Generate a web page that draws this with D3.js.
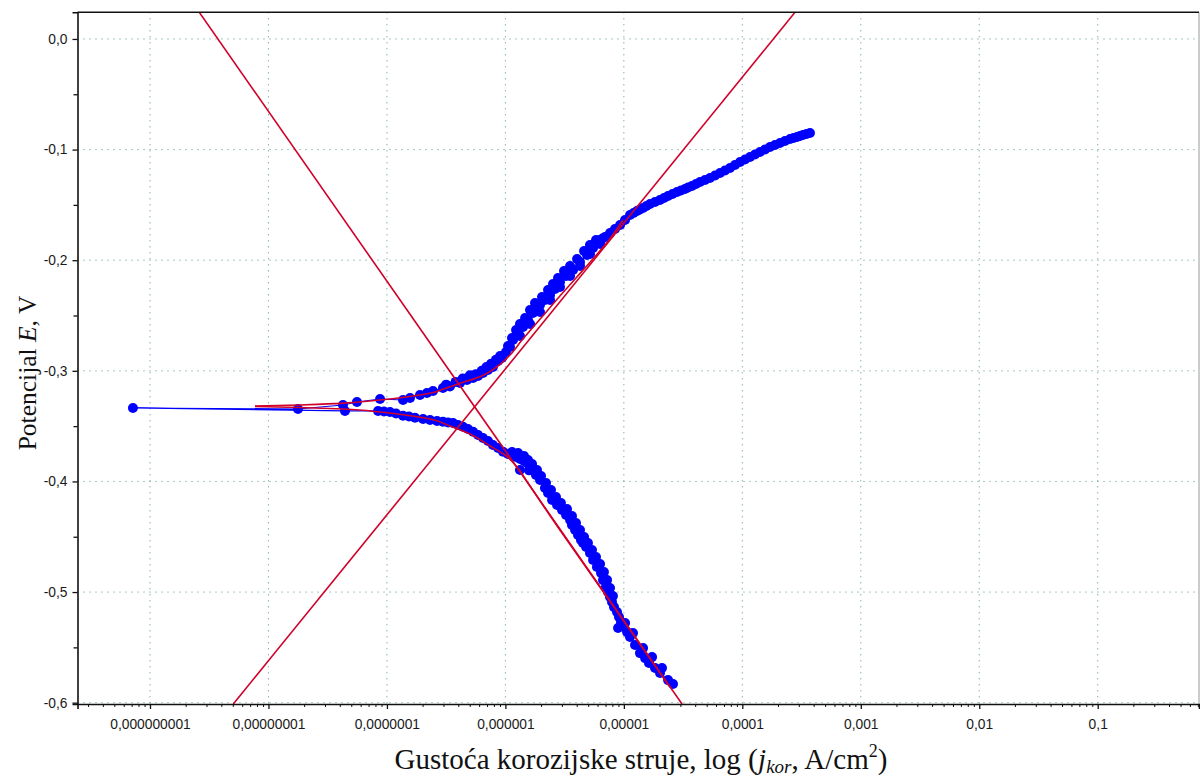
<!DOCTYPE html>
<html><head><meta charset="utf-8">
<script src="https://cdn.jsdelivr.net/npm/d3@7"></script>
<style>body{margin:0;background:#fff}svg{display:block}</style>
</head><body>
<svg id="chart" width="1200" height="779"></svg>
<script>
// ---- axis ticks ----
const xDecades = [1e-9, 1e-8, 1e-7, 1e-6, 1e-5, 1e-4, 1e-3, 1e-2, 1e-1];
const xDecadeLabels = ["0,000000001","0,00000001","0,0000001","0,000001","0,00001","0,0001","0,001","0,01","0,1"];
const yTicks = [0, -0.1, -0.2, -0.3, -0.4, -0.5, -0.6];
const yTickLabels = ["0,0","-0,1","-0,2","-0,3","-0,4","-0,5","-0,6"];
const yMinorTicks = [-0.05, -0.15, -0.25, -0.35, -0.45, -0.55];
const xDomainLog = [-9.612, -0.145];
const yDomain = [-0.6012, 0.0241];

// ---- measured polarization curve: [log10 j (A/cm2), E (V)], scan order ----
const measured = [
[-4.585,-0.5832],[-4.627,-0.5796],[-4.695,-0.5732],[-4.737,-0.5687],[-4.788,-0.5642],[-4.821,-0.5597],
[-4.864,-0.5552],[-4.906,-0.5479],[-4.948,-0.5407],[-4.973,-0.5362],[-4.999,-0.5316],[-5.049,-0.5325],
[-5.024,-0.5271],[-5.041,-0.5226],[-5.058,-0.5181],[-5.083,-0.5136],[-5.100,-0.5090],[-5.117,-0.5045],
[-5.134,-0.5000],[-5.151,-0.4955],[-5.176,-0.4892],[-5.193,-0.4828],[-5.227,-0.4774],[-5.260,-0.4711],
[-5.286,-0.4647],[-5.319,-0.4593],[-5.345,-0.4557],[-5.362,-0.4530],[-5.387,-0.4485],[-5.412,-0.4439],
[-5.438,-0.4394],[-5.454,-0.4349],[-5.488,-0.4304],[-5.522,-0.4259],[-5.564,-0.4213],[-5.606,-0.4168],
[-5.640,-0.4105],[-5.666,-0.4060],[-5.708,-0.3987],[-5.742,-0.3942],[-5.767,-0.3897],[-5.800,-0.3900],
[-5.792,-0.3861],[-5.818,-0.3834],[-5.843,-0.3816],[-5.877,-0.3797],[-5.910,-0.3779],[-5.936,-0.3770],
[-5.978,-0.3752],[-6.020,-0.3731],[-6.062,-0.3698],[-6.105,-0.3671],[-6.147,-0.3635],[-6.189,-0.3608],
[-6.231,-0.3580],[-6.273,-0.3551],[-6.316,-0.3526],[-6.358,-0.3505],[-6.400,-0.3490],[-6.442,-0.3472],
[-6.484,-0.3467],[-6.527,-0.3460],[-6.577,-0.3454],[-6.636,-0.3445],[-6.695,-0.3436],[-6.763,-0.3424],
[-6.814,-0.3413],[-6.864,-0.3406],[-6.923,-0.3386],[-6.974,-0.3373],[-7.025,-0.3368],[-7.075,-0.3363],
[-7.354,-0.3363],[-9.144,-0.3336],
[-7.751,-0.3345],[-7.371,-0.3309],[-7.253,-0.3282],[-7.058,-0.3255],[-6.864,-0.3264],[-6.805,-0.3246],
[-6.721,-0.3219],[-6.662,-0.3201],[-6.611,-0.3183],[-6.527,-0.3156],[-6.468,-0.3142],[-6.383,-0.3110],
[-6.324,-0.3083],[-6.273,-0.3065],[-6.231,-0.3047],[-6.189,-0.3020],[-6.147,-0.2993],[-6.105,-0.2966],
[-6.062,-0.2911],[-6.029,-0.2884],[-5.995,-0.2830],[-5.961,-0.2785],[-5.936,-0.2722],[-5.893,-0.2658],
[-5.851,-0.2604],[-5.809,-0.2541],[-5.767,-0.2477],[-5.733,-0.2432],[-5.708,-0.2405],[-5.666,-0.2360],
[-5.623,-0.2315],[-5.581,-0.2260],[-5.539,-0.2197],[-5.488,-0.2143],[-5.429,-0.2089],[-5.370,-0.2016],
[-5.311,-0.1953],[-5.260,-0.1890],[-5.201,-0.1817],[-5.180,-0.1804],[-5.159,-0.1790],[-5.117,-0.1754],
[-5.075,-0.1718],[-5.032,-0.1682],[-4.990,-0.1637],[-4.948,-0.1591],[-4.918,-0.1573],[-4.889,-0.1555],
[-4.864,-0.1542],[-4.838,-0.1528],[-4.809,-0.1510],[-4.779,-0.1492],[-4.737,-0.1474],[-4.695,-0.1456],
[-4.661,-0.1438],[-4.627,-0.1420],[-4.589,-0.1401],[-4.551,-0.1383],[-4.518,-0.1370],[-4.484,-0.1356],
[-4.458,-0.1343],[-4.425,-0.1329],[-4.391,-0.1311],[-4.357,-0.1293],[-4.315,-0.1275],[-4.273,-0.1257],
[-4.230,-0.1234],[-4.188,-0.1212],[-4.146,-0.1189],[-4.104,-0.1166],[-4.062,-0.1139],[-4.019,-0.1112],
[-3.977,-0.1090],[-3.935,-0.1067],[-3.893,-0.1044],[-3.851,-0.1022],[-3.808,-0.0999],[-3.766,-0.0976],
[-3.724,-0.0958],[-3.682,-0.0940],[-3.640,-0.0922],[-3.597,-0.0904],[-3.568,-0.0895],[-3.538,-0.0886],
[-3.513,-0.0877],[-3.488,-0.0868],[-3.458,-0.0859],[-3.429,-0.0850]
];
// additional scattered measured points inside the dense bands
const measuredScatter = [
[-6.045,-0.2866],[-5.978,-0.2776],[-5.944,-0.2703],[-5.910,-0.2631],[-5.877,-0.2577],[-5.834,-0.2523],
[-5.792,-0.2450],[-5.750,-0.2387],[-5.691,-0.2333],[-5.640,-0.2269],[-5.598,-0.2215],[-5.556,-0.2161],
[-5.505,-0.2098],[-5.454,-0.2052],[-5.395,-0.1989],[-5.336,-0.1917],[-5.286,-0.1863],[-5.235,-0.1817],
[-5.877,-0.2685],[-5.792,-0.2577],[-5.708,-0.2468],[-5.623,-0.2360],[-5.539,-0.2242],[-5.454,-0.2143],
[-5.370,-0.2052],[-5.286,-0.1944],[-5.201,-0.1854],
[-6.300,-0.3040],[-6.250,-0.3030],[-6.200,-0.3000],[-6.160,-0.2965],[-6.120,-0.2935],[-6.080,-0.2900],
[-6.500,-0.3125],[-6.420,-0.3100],[-6.360,-0.3070],
[-5.944,-0.3734],[-5.893,-0.3743],[-5.843,-0.3770],[-5.809,-0.3807],[-5.775,-0.3843],[-5.733,-0.3897],
[-5.699,-0.3951],[-5.657,-0.4014],[-5.615,-0.4078],[-5.573,-0.4141],[-5.531,-0.4195],[-5.480,-0.4250],
[-5.438,-0.4313],[-5.404,-0.4376],[-5.370,-0.4439],[-5.336,-0.4503],[-5.303,-0.4557],[-5.269,-0.4620],
[-5.235,-0.4684],[-5.201,-0.4747],[-5.168,-0.4819],[-5.142,-0.4892],[-5.117,-0.4964],[-5.092,-0.5036],
[-4.990,-0.5280],[-4.923,-0.5371],[-4.838,-0.5506],[-4.762,-0.5588],[-4.678,-0.5687],[-5.877,-0.3897]
];
// fitted curve (anodic and cathodic branches)
const fitAnodic = [
[-8.114,-0.3318],[-7.734,-0.3309],[-7.396,-0.3294],[-7.058,-0.3264],[-6.805,-0.3232],[-6.636,-0.3203],
[-6.510,-0.3160],[-6.383,-0.3113],[-6.214,-0.3053],[-6.071,-0.2963],[-5.961,-0.2857],[-5.860,-0.2722],
[-5.699,-0.2523],[-5.569,-0.2360],[-5.404,-0.2161],[-5.269,-0.1998],[-5.125,-0.1817],[-5.007,-0.1637]
];
const fitCathodic = [
[-8.114,-0.3323],[-7.734,-0.3332],[-7.371,-0.3345],[-7.058,-0.3373],[-6.847,-0.3400],[-6.636,-0.3436],
[-6.468,-0.3499],[-6.299,-0.3571],[-6.130,-0.3680],[-6.003,-0.3761],[-5.902,-0.3870],[-5.809,-0.4014],
[-5.598,-0.4349],[-5.362,-0.4711],[-5.125,-0.5072],[-4.889,-0.5434],[-4.653,-0.5796],[-4.619,-0.5850]
];
// Tafel lines (endpoints)
const tafelAnodic = [[-8.297,-0.6012],[-3.555,0.0241]];
const tafelCathodic = [[-8.584,0.0241],[-4.509,-0.6012]];

// ---- layout ----
const W = 1200, H = 779;
const L = 77.5, R = 1199, T = 12.3, B = 704;
const svg = d3.select("#chart");
svg.append("rect").attr("width", W).attr("height", H).attr("fill", "#fff");

const x = d3.scaleLog().domain(xDomainLog.map(v => Math.pow(10, v))).range([L, R]);
const y = d3.scaleLinear().domain(yDomain).range([B, T]);
const px = d => x(Math.pow(10, d[0]));
const py = d => y(d[1]);

// grid
const gridColor = "#4f8f8c";
svg.append("g").selectAll("line").data(xDecades).join("line")
  .attr("x1", d => x(d)).attr("x2", d => x(d)).attr("y1", T).attr("y2", B)
  .attr("stroke", gridColor).attr("stroke-width", 1).attr("stroke-dasharray", "1,5");
svg.append("g").selectAll("line").data(yTicks).join("line")
  .attr("x1", L).attr("x2", R).attr("y1", d => y(d)).attr("y2", d => y(d))
  .attr("stroke", gridColor).attr("stroke-width", 1).attr("stroke-dasharray", "1,5");

// clip
svg.append("clipPath").attr("id", "clip").append("rect")
  .attr("x", L).attr("y", T).attr("width", R - L).attr("height", B - T);
const plot = svg.append("g").attr("clip-path", "url(#clip)");

const line = d3.line().x(px).y(py);

// measured data
plot.append("path").datum(measured).attr("d", line)
  .attr("fill", "none").attr("stroke", "#0000ff").attr("stroke-width", 1.2);
plot.append("g").selectAll("circle").data(measured.concat(measuredScatter)).join("circle")
  .attr("cx", px).attr("cy", py).attr("r", 5).attr("fill", "#0000ff");

// fits and Tafel lines
const red = "#d0002a";
[fitAnodic, fitCathodic].forEach(s => {
  plot.append("path").datum(s).attr("d", d3.line().x(px).y(py).curve(d3.curveMonotoneY))
    .attr("fill", "none").attr("stroke", red).attr("stroke-width", 1.6);
});
[tafelAnodic, tafelCathodic].forEach(s => {
  plot.append("path").datum(s).attr("d", line)
    .attr("fill", "none").attr("stroke", red).attr("stroke-width", 1.6);
});

// frame
svg.append("line").attr("x1", R).attr("x2", R).attr("y1", T).attr("y2", B).attr("stroke", "#999").attr("stroke-width", 1);
svg.append("line").attr("x1", L).attr("x2", R).attr("y1", T).attr("y2", T).attr("stroke", "#111").attr("stroke-width", 1.5);

// axes
const minorX = [];
for (let e = -10; e <= -1; e++) for (let k = 2; k <= 9; k++) {
  const v = k * Math.pow(10, e);
  if (Math.log10(v) > xDomainLog[0] && Math.log10(v) < xDomainLog[1]) minorX.push(v);
}
const tickFont = "'Liberation Sans', Arial, sans-serif";
const xAxis = d3.axisBottom(x).tickValues(xDecades).tickSize(5).tickPadding(10)
  .tickFormat((d, i) => xDecadeLabels[i]);
const gx = svg.append("g").attr("transform", `translate(0,${B})`).call(xAxis);
gx.select(".domain").attr("stroke", "#111").attr("stroke-width", 1.6);
gx.selectAll(".tick line").attr("stroke", "#111").attr("stroke-width", 1.3);
gx.selectAll("text").attr("font-family", tickFont).attr("font-size", "13.8px").attr("fill", "#1a1a1a");
svg.append("g").attr("transform", `translate(0,${B})`).call(d3.axisBottom(x).tickValues(minorX).tickSize(3).tickFormat(""))
  .call(g => g.select(".domain").remove())
  .selectAll(".tick line").attr("stroke", "#111").attr("stroke-width", 1);

const yAxis = d3.axisLeft(y).tickValues(yTicks).tickSize(5).tickPadding(5)
  .tickFormat((d, i) => yTickLabels[i]);
const gy = svg.append("g").attr("transform", `translate(${L},0)`).call(yAxis);
gy.select(".domain").attr("stroke", "#111").attr("stroke-width", 1.6);
gy.selectAll(".tick line").attr("stroke", "#111").attr("stroke-width", 1.3);
gy.selectAll("text").attr("font-family", tickFont).attr("font-size", "13.8px").attr("fill", "#1a1a1a");
svg.append("g").attr("transform", `translate(${L},0)`).call(d3.axisLeft(y).tickValues(yMinorTicks).tickSize(4).tickFormat(""))
  .call(g => g.select(".domain").remove())
  .selectAll(".tick line").attr("stroke", "#111").attr("stroke-width", 1.3);

// titles
const serif = "'Liberation Serif', 'Times New Roman', serif";
const xt = svg.append("text").attr("x", 641).attr("y", 769).attr("text-anchor", "middle")
  .attr("font-family", serif).attr("font-size", "29px").attr("fill", "#111");
xt.append("tspan").text("Gustoća korozijske struje, log ");
xt.append("tspan").attr("font-size", "30px").text("(");
xt.append("tspan").attr("font-style", "italic").text("j");
xt.append("tspan").attr("font-style", "italic").attr("font-size", "19px").attr("dy", "4").text("kor");
xt.append("tspan").attr("dy", "-4").text(", A/cm");
xt.append("tspan").attr("font-size", "18px").attr("dy", "-12").text("2");
xt.append("tspan").attr("dy", "12").text(")");

const yt = svg.append("text").attr("transform", "translate(36,373) rotate(-90)").attr("text-anchor", "middle")
  .attr("font-family", serif).attr("font-size", "25.5px").attr("fill", "#111");
yt.append("tspan").text("Potencijal ");
yt.append("tspan").attr("font-style", "italic").text("E");
yt.append("tspan").text(", V");
</script>
</body></html>
